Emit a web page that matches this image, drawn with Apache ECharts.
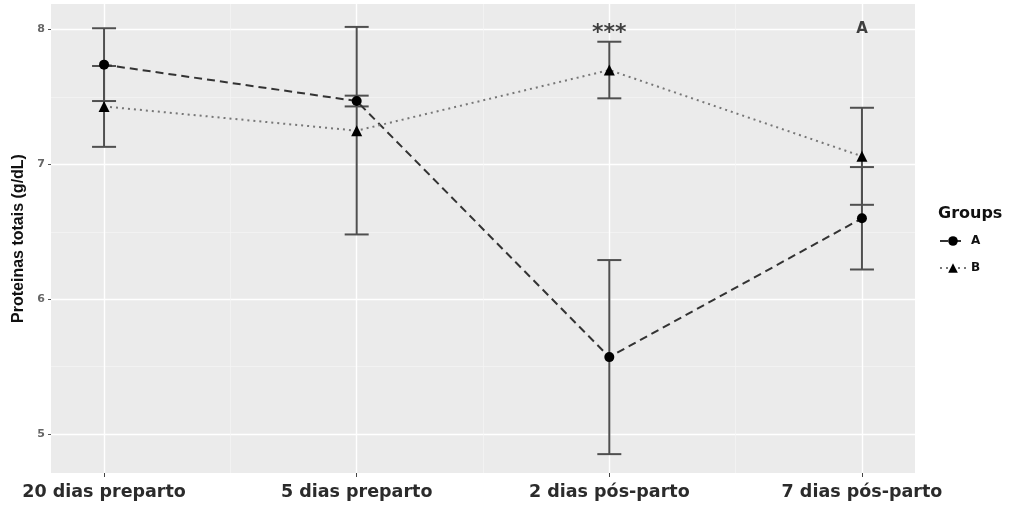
<!DOCTYPE html>
<html>
<head>
<meta charset="utf-8">
<script src="https://cdn.jsdelivr.net/npm/echarts@6/dist/echarts.min.js"></script>
<style>html,body{margin:0;padding:0;background:#fff}#c{width:1010px;height:506px}</style>
</head>
<body>
<div id="c"></div>
<script>
// ---- data ----
const categories = ['20 dias preparto', '5 dias preparto', '2 dias pós-parto', '7 dias pós-parto'];
const meanA = [7.74, 7.47, 5.57, 6.60];
const errA  = [0.27, 0.04, 0.72, 0.38];
const meanB = [7.43, 7.25, 7.70, 7.06];
const errB  = [0.30, 0.77, 0.21, 0.36];
const yTicks = [5, 6, 7, 8];
const yMinor = [5.5, 6.5, 7.5];
const annotCat = [2, 3];
const annotY = [7.97, 8.0];
const annotText = ['***', 'A'];

const catIdx = categories.map((_, i) => i);
const catMid = catIdx.slice(1).map(i => i - 0.5);

function pts(means) { return means.map((m, i) => [i, m]); }
function bars(means, errs) { return means.map((m, i) => [i, m - errs[i], m + errs[i]]); }

function renderErr(params, api) {
  const x = api.value(0), lo = api.value(1), hi = api.value(2);
  const a = api.coord([x, hi]), b = api.coord([x, lo]);
  const w = 12;
  const st = { stroke: '#4f4f4f', lineWidth: 2 };
  return { type: 'group', children: [
    { type: 'line', shape: { x1: a[0], y1: a[1], x2: b[0], y2: b[1] }, style: st },
    { type: 'line', shape: { x1: a[0] - w, y1: a[1], x2: a[0] + w, y2: a[1] }, style: st },
    { type: 'line', shape: { x1: b[0] - w, y1: b[1], x2: b[0] + w, y2: b[1] }, style: st }
  ]};
}

const chart = echarts.init(document.getElementById('c'));
const xMin = -0.21, xMax = 3.21, yMin = 4.71, yMax = 8.19;
chart.setOption({
  animation: false,
  title: { text: 'Groups', left: 933, top: 201,
    textStyle: { fontFamily: 'DejaVu Sans', fontWeight: 'bold', fontSize: 16, color: '#111' } },
  legend: {
    data: ['A', 'B'], orient: 'vertical', left: 934, top: 230,
    itemWidth: 26, itemHeight: 12, itemGap: 15,
    textStyle: { fontFamily: 'DejaVu Sans', fontWeight: 'bold', fontSize: 12, color: '#111' }
  },
  grid: { left: 51, right: 95, top: 4, bottom: 33, show: true, backgroundColor: '#EBEBEB', borderWidth: 0 },
  xAxis: [
    { type: 'value', min: xMin, max: xMax, position: 'bottom',
      axisLine: { show: false, onZero: false },
      axisTick: { show: true, customValues: catIdx, length: 4, lineStyle: { color: '#444', width: 1 } },
      axisLabel: { customValues: catIdx, margin: 10, formatter: v => categories[Math.round(v)],
        fontFamily: 'DejaVu Sans', fontWeight: 'bold', fontSize: 17.5, color: '#2b2b2b' },
      splitLine: { show: true, lineStyle: { color: '#FFFFFF', width: 1.4 } } },
    { type: 'value', min: xMin, max: xMax, position: 'bottom',
      axisLine: { show: false, onZero: false },
      axisTick: { show: false, customValues: catMid },
      axisLabel: { show: false, customValues: catMid },
      splitLine: { show: true, lineStyle: { color: '#F5F5F5', width: 0.7 } } }
  ],
  yAxis: [
    { type: 'value', min: yMin, max: yMax, position: 'left',
      name: 'Proteinas totais (g/dL)', nameLocation: 'middle', nameGap: 24,
      nameTextStyle: { fontFamily: 'Liberation Sans', fontWeight: 'bold', fontSize: 16, color: '#111' },
      axisLine: { show: false, onZero: false },
      axisTick: { show: true, customValues: yTicks, length: 3, lineStyle: { color: '#555' } },
      axisLabel: { customValues: yTicks, margin: 6,
        fontFamily: 'DejaVu Sans', fontWeight: 'bold', fontSize: 11, color: '#666' },
      splitLine: { show: true, lineStyle: { color: '#FFFFFF', width: 1.4 } } },
    { type: 'value', min: yMin, max: yMax, position: 'left',
      axisLine: { show: false, onZero: false },
      axisTick: { show: false, customValues: yMinor },
      axisLabel: { show: false, customValues: yMinor },
      splitLine: { show: true, lineStyle: { color: '#F5F5F5', width: 0.7 } } }
  ],
  series: [
    { type: 'custom', name: 'errA', renderItem: renderErr, data: bars(meanA, errA), z: 3,
      xAxisIndex: 0, yAxisIndex: 0, encode: { x: 0, y: [1, 2] } },
    { type: 'custom', name: 'errB', renderItem: renderErr, data: bars(meanB, errB), z: 3,
      xAxisIndex: 0, yAxisIndex: 0, encode: { x: 0, y: [1, 2] } },
    { type: 'line', name: 'A', data: pts(meanA), xAxisIndex: 0, yAxisIndex: 0, z: 4,
      symbol: 'circle', symbolSize: 10, itemStyle: { color: '#000' },
      lineStyle: { color: '#333', width: 2, type: [8, 5] } },
    { type: 'line', name: 'B', data: pts(meanB), xAxisIndex: 0, yAxisIndex: 0, z: 4,
      symbol: 'triangle', symbolSize: 11, itemStyle: { color: '#000' },
      lineStyle: { color: '#777', width: 2, type: [2, 4] } },
    { type: 'scatter', name: 'annot', xAxisIndex: 0, yAxisIndex: 0, z: 5,
      symbolSize: 0, silent: true,
      data: annotCat.map((c, i) => ({ value: [c, annotY[i]], label: { formatter: annotText[i],
        fontSize: i === 0 ? 22 : 15 } })),
      label: { show: true, position: 'inside', fontFamily: 'DejaVu Sans', fontWeight: 'bold', color: '#111' } }
  ]
});
</script>
</body>
</html>
